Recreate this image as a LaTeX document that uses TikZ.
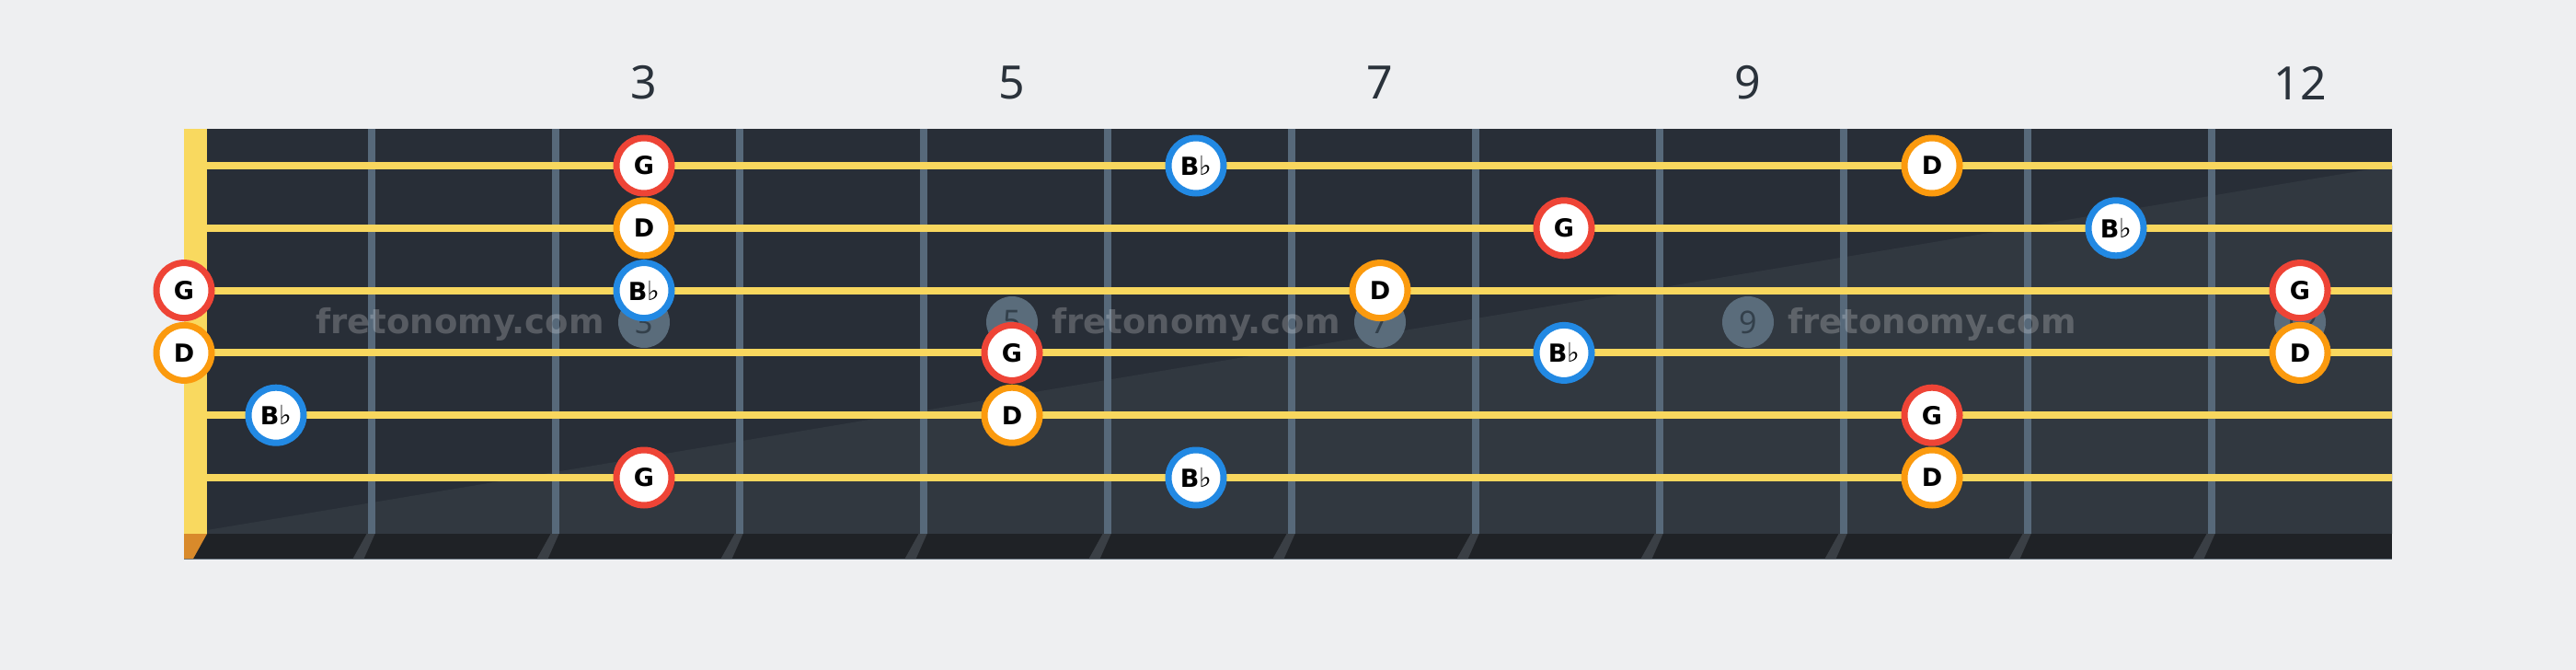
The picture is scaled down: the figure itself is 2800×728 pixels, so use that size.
\documentclass[tikz,border=0pt]{standalone}
\usepackage{fontspec}
\setmainfont{Noto Sans}
\newfontfamily\heavyfont{DejaVu Sans}
\definecolor{bgc}{HTML}{EEEFF1}
\definecolor{boardc}{HTML}{282E37}
\definecolor{boardlight}{HTML}{313840}
\definecolor{stripc}{HTML}{1F2226}
\definecolor{fretc}{HTML}{57697A}
\definecolor{stringc}{HTML}{F8D75E}
\definecolor{nutc}{HTML}{F9D95F}
\definecolor{nutshade}{HTML}{D98A2B}
\definecolor{fretshade}{HTML}{3A3F45}
\definecolor{edgec}{HTML}{66727D}
\definecolor{redc}{HTML}{EE4436}
\definecolor{orangec}{HTML}{FB9A0E}
\definecolor{bluec}{HTML}{2289E3}
\definecolor{markc}{HTML}{5A6C7B}
\definecolor{markdigit}{HTML}{33404B}
\definecolor{numc}{HTML}{2A323B}
\begin{document}
\begin{tikzpicture}[x=1pt,y=-1pt,
  fretline/.style={draw=fretc, line width=8pt},
  stringline/.style={draw=stringc, line width=8pt},
  note/.style={circle, draw=#1, line width=7pt, fill=white, minimum size=60pt, inner sep=0pt,
    font=\heavyfont\fontsize{27}{27}\selectfont\bfseries, text=black},
  marker/.style={circle, fill=markc, minimum size=56pt, inner sep=0pt,
    font=\fontsize{34}{34}\selectfont, text=markdigit},
  wmark/.style={anchor=base, text=white, text opacity=0.22, inner sep=0pt,
    font=\heavyfont\fontsize{37}{37}\selectfont\bfseries},
  fretnum/.style={text=numc, inner sep=0pt, font=\fontsize{50}{50}\selectfont}]
\useasboundingbox (0,0) rectangle (2800,728);
\fill[bgc] (0,0) rectangle (2800,728);
% board
\fill[boardc] (200,140) rectangle (2600,580);
\fill[boardlight] (225,580) -- (225,576) -- (2600,180) -- (2600,580) -- cycle;
\fill[stripc] (200,580) rectangle (2600,608);
\draw[edgec, line width=1.5pt] (200,607.5) -- (2600,607.5);
\foreach \n in {1,...,11}{
  \pgfmathsetmacro{\X}{203.6+200*\n}
  \fill[fretshade] (\X-5,580) -- (\X+4,580) -- (\X-8,607) -- (\X-20,607) -- cycle;
}
\fill[nutshade] (200,580) -- (225,580) -- (210,607) -- (200,607) -- cycle;
% frets
\foreach \n in {1,...,11}{
  \pgfmathsetmacro{\X}{203.6+200*\n}
  \coordinate (f\n t) at (\X,140);
  \coordinate (f\n b) at (\X,580);
  \draw[fretline] (f\n t) -- (f\n b);
}
% nut
\fill[nutc] (200,140) rectangle (225,580);
% inlay markers
\node[marker] (m3) at (700,350) {3};
\node[marker] (m5) at (1100,350) {5};
\node[marker] (m7) at (1500,350) {7};
\node[marker] (m9) at (1900,350) {9};
\node[marker] (m12) at (2500,350) {12};
% watermarks
\node[wmark] (w1) at (500,362) {fretonomy.com};
\node[wmark] (w2) at (1300,362) {fretonomy.com};
\node[wmark] (w3) at (2100,362) {fretonomy.com};
% strings
\foreach \s/\y in {1/180,2/247.8,3/315.6,4/383.4,5/451.2,6/519}{
  \coordinate (s\s L) at (225,\y);
  \coordinate (s\s R) at (2600,\y);
  \draw[stringline] (s\s L) -- (s\s R);
}
% notes
\newcommand{\Bf}{B{\mdseries\fontsize{29}{29}\selectfont ♭}}
% string 1
\node[note=redc] (a3) at (700,180) {G};
\node[note=bluec] (a6) at (1300,180) {\Bf};
\node[note=orangec] (a10) at (2100,180) {D};
% string 2
\node[note=orangec] (b3) at (700,247.8) {D};
\node[note=redc] (b8) at (1700,247.8) {G};
\node[note=bluec] (b11) at (2300,247.8) {\Bf};
% string 3
\node[note=redc] (c0) at (200,315.6) {G};
\node[note=bluec] (c3) at (700,315.6) {\Bf};
\node[note=orangec] (c7) at (1500,315.6) {D};
\node[note=redc] (c12) at (2500,315.6) {G};
% string 4
\node[note=orangec] (d0) at (200,383.4) {D};
\node[note=redc] (d5) at (1100,383.4) {G};
\node[note=bluec] (d8) at (1700,383.4) {\Bf};
\node[note=orangec] (d12) at (2500,383.4) {D};
% string 5
\node[note=bluec] (e1) at (300,451.2) {\Bf};
\node[note=orangec] (e5) at (1100,451.2) {D};
\node[note=redc] (e10) at (2100,451.2) {G};
% string 6
\node[note=redc] (g3) at (700,519) {G};
\node[note=bluec] (g6) at (1300,519) {\Bf};
\node[note=orangec] (g10) at (2100,519) {D};
% fret numbers
\node[fretnum] (t3) at (700,90) {3};
\node[fretnum] (t5) at (1100,90) {5};
\node[fretnum] (t7) at (1500,90) {7};
\node[fretnum] (t9) at (1900,90) {9};
\node[fretnum] (t12) at (2500,90) {12};
\end{tikzpicture}
\end{document}
